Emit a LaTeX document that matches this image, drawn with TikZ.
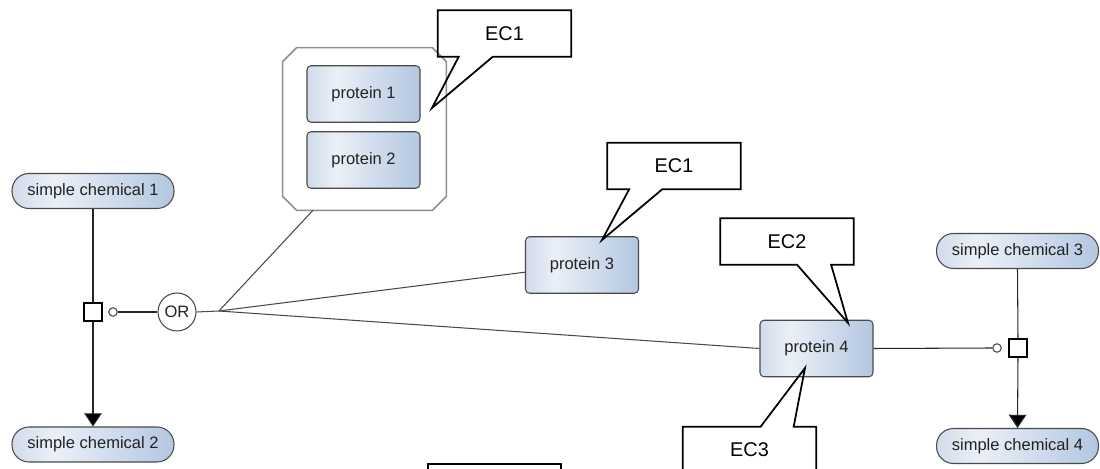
\documentclass[tikz,border=0pt]{standalone}
\usepackage{fontspec}
\setmainfont{Liberation Sans}
\usetikzlibrary{calc,arrows.meta}
\pgfdeclarehorizontalshading{glyphshade}{100bp}{rgb(0bp)=(0.82,0.86,0.92); rgb(25bp)=(0.82,0.86,0.92); rgb(38bp)=(0.92,0.94,0.97); rgb(75bp)=(0.70,0.78,0.88); rgb(100bp)=(0.70,0.78,0.88)}
\definecolor{edgegrey}{HTML}{4A4A4A}
\definecolor{cxgrey}{HTML}{8E8E8E}
\definecolor{txtgrey}{HTML}{222222}
\tikzset{
  glyph/.style={draw=edgegrey, line width=0.6pt, shading=glyphshade, inner sep=0pt, text=txtgrey, font=\fontsize{9.4}{11}\selectfont},
  pill/.style={glyph, rounded corners=0.34cm, minimum width=3.24cm, minimum height=0.70cm},
  prot/.style={glyph, rounded corners=0.08cm, minimum width=2.26cm, minimum height=1.13cm},
  procbox/.style={draw=black, fill=white, line width=0.6pt, minimum size=0.36cm, inner sep=0pt},
  catcirc/.style={draw=edgegrey, fill=white, line width=0.6pt, circle, minimum size=0.17cm, inner sep=0pt},
  orcirc/.style={draw=edgegrey, fill=white, line width=0.6pt, circle, minimum size=0.76cm, inner sep=0pt, text=txtgrey, font=\fontsize{9.4}{11}\selectfont},
  conn/.style={draw=edgegrey, line width=0.6pt},
  vconn/.style={draw=black!85, line width=0.6pt},
  prodarrow/.style={vconn, -{Triangle[width=10pt,length=7.5pt,fill=black]}},
  ecbox/.style={minimum width=2.66cm, minimum height=0.92cm, inner sep=0pt, font=\fontsize{11.3}{13}\selectfont},
  callout/.style={draw=black, line width=1pt, line join=miter},
  cxline/.style={draw=cxgrey, line width=0.9pt, fill=white}
}
\begin{document}
\begin{tikzpicture}[x=0.02cm, y=-0.02cm]
\useasboundingbox (0,0) rectangle (1100,469);
\clip (0,0) rectangle (1100,469);

% complex
\node[minimum width=3.26cm, minimum height=3.24cm, inner sep=0pt] (cx) at (364.5,129) {};
\draw[cxline] ($(cx.north west)+(14,0)$) -- ($(cx.north east)+(-14,0)$) -- ($(cx.north east)+(0,14)$)
  -- ($(cx.south east)+(0,-14)$) -- ($(cx.south east)+(-14,0)$) -- ($(cx.south west)+(14,0)$)
  -- ($(cx.south west)+(0,-14)$) -- ($(cx.north west)+(0,14)$) -- cycle;
\node[prot] (p1) at (363.5,94) {protein 1};
\node[prot] (p2) at (363.5,160) {protein 2};

% simple chemicals
\node[pill] (sc1) at (93,191) {simple chemical 1};
\node[pill] (sc2) at (93,444.5) {simple chemical 2};
\node[pill] (sc3) at (1017.5,251) {simple chemical 3};
\node[pill] (sc4) at (1017.5,446) {simple chemical 4};

% proteins
\node[prot] (p3) at (582,265) {protein 3};
\node[prot] (p4) at (816.5,348.5) {protein 4};

% processes
\node[procbox] (pr1) at (93,312) {};
\node[procbox] (pr2) at (1018,348) {};
\node[catcirc] (c1) at (113,312) {};
\node[catcirc] (c2) at (997,348) {};
\node[orcirc] (or) at (177,312) {OR};
\coordinate (fan) at (219,311);

% connectors
\draw[vconn] (sc1.south) -- (pr1.north);
\draw[prodarrow] (pr1.south) -- (sc2.north);
\draw[vconn] (sc3.south) -- (pr2.north);
\draw[prodarrow] (pr2.south) -- (sc4.north);
\draw[vconn] (or.west) -- (c1.east);
\draw[conn] (or.east) -- (fan);
\draw[conn] (fan) -- ($(cx.south west)!0.185!(cx.south east)$);
\draw[conn] (fan) -- ($(p3.west)!0.25!(p3.south west)$);
\draw[conn] (fan) -- (p4.west);
\draw[vconn] (p4.east) -- (c2.west);

% callouts
\node[ecbox] (ec1a) at (504.5,33.5) {EC1};
\coordinate (t1a) at (432,108);
\draw[callout] (ec1a.south west) -- (ec1a.north west) -- (ec1a.north east) -- (ec1a.south east)
  -- ($(ec1a.south west)+(55,0)$) -- (t1a) -- ($(ec1a.south west)+(21,0)$) -- cycle;

\node[ecbox] (ec1b) at (674,166) {EC1};
\coordinate (t1b) at (602,240);
\draw[callout] (ec1b.south west) -- (ec1b.north west) -- (ec1b.north east) -- (ec1b.south east)
  -- ($(ec1b.south west)+(55,0)$) -- (t1b) -- ($(ec1b.south west)+(22,0)$) -- cycle;

\node[ecbox] (ec2) at (787,241.5) {EC2};
\coordinate (t2) at (848,323);
\draw[callout] (ec2.south west) -- (ec2.north west) -- (ec2.north east) -- (ec2.south east)
  -- ($(ec2.south west)+(111,0)$) -- (t2) -- ($(ec2.south west)+(77,0)$) -- cycle;

\node[ecbox] (ec3) at (749.5,450) {EC3};
\coordinate (t3) at (805,368);
\draw[callout] (ec3.north west) -- ($(ec3.north west)+(78,0)$) -- (t3) -- ($(ec3.north west)+(111,0)$)
  -- (ec3.north east) -- (ec3.south east) -- (ec3.south west) -- cycle;

\node[ecbox, draw=black, line width=1pt] (bx) at (494.5,487) {};
\end{tikzpicture}
\end{document}
